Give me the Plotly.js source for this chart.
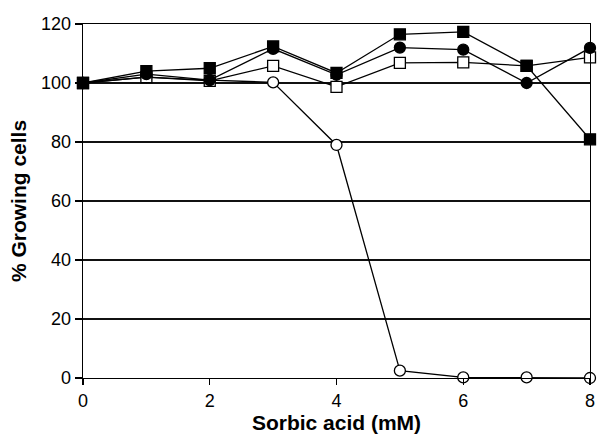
<!DOCTYPE html>
<html>
<head>
<meta charset="utf-8">
<script src="https://cdn.plot.ly/plotly-3.0.1.min.js"></script>
<style>html,body{margin:0;padding:0;background:#fff;}#chart{width:598px;height:434px;}</style>
</head>
<body>
<div id="chart"></div>
<script>
const sorbic = [0, 1, 2, 3, 4, 5, 6, 7, 8];
const filledSquares = [100, 104, 105, 112.4, 103.4, 116.5, 117.3, 105.8, 80.9];
const filledCircles = [100, 103, 101, 111.6, 102.8, 112, 111.3, 100, 111.9];
const openSquares = [100, 102, 100.7, 105.8, 98.7, 106.8, 107, 105.8, 108.7];
const openCircles = [100, 102, 101, 100.2, 79, 2.5, 0.2, 0.2, 0];

const yTicks = [0, 20, 40, 60, 80, 100, 120];
const xTicks = [0, 2, 4, 6, 8];

function trace(y, symbol, fill) {
  return {
    x: sorbic, y: y, type: 'scatter', mode: 'lines+markers',
    line: {color: '#000', width: 1.3},
    marker: {symbol: symbol, size: 11,
      color: fill, line: {color: '#000', width: 1.3}},
    cliponaxis: false, showlegend: false
  };
}

const data = [
  trace(openCircles, 'circle', '#fff'),
  trace(openSquares, 'square', '#fff'),
  trace(filledCircles, 'circle', '#000'),
  trace(filledSquares, 'square', '#000')
];

const fam = 'Liberation Sans, Arial, sans-serif';
const layout = {
  width: 598, height: 434,
  margin: {l: 83, r: 8, t: 24, b: 56},
  paper_bgcolor: '#fff', plot_bgcolor: '#fff',
  font: {family: fam, color: '#000'},
  xaxis: {
    range: [0, 8], tickvals: xTicks, ticktext: xTicks.map(String),
    ticks: 'outside', ticklen: 6, tickwidth: 1.3, tickcolor: '#000',
    showline: true, linecolor: '#000', linewidth: 1.3, mirror: true,
    showgrid: false, zeroline: false, automargin: false,
    tickfont: {family: fam, size: 18, color: '#000'},
    title: {text: '<b>Sorbic acid (mM)</b>', font: {family: fam, size: 21, color: '#000'}, standoff: 0}
  },
  yaxis: {
    range: [0, 120], tickvals: yTicks, ticktext: yTicks.map(String),
    ticks: 'outside', ticklen: 7, tickwidth: 1.3, tickcolor: '#000',
    showline: true, linecolor: '#000', linewidth: 1.3, mirror: true,
    showgrid: true, gridcolor: '#111', gridwidth: 1.5, zeroline: false, automargin: false,
    tickfont: {family: fam, size: 18, color: '#000'},
    title: {text: '<b>% Growing cells</b>', font: {family: fam, size: 21, color: '#000'}, standoff: 8}
  }
};

Plotly.newPlot('chart', data, layout, {displayModeBar: false, staticPlot: true});
</script>
</body>
</html>
